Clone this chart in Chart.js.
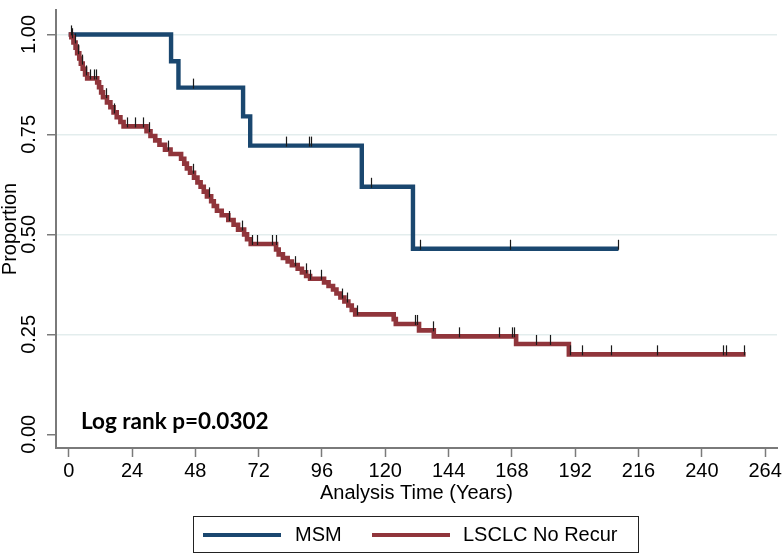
<!DOCTYPE html>
<html>
<head>
<meta charset="utf-8">
<script src="https://cdn.jsdelivr.net/npm/chart.js@4"></script>
<style>
  html, body { margin: 0; padding: 0; background: #fff; }
  #wrap { position: relative; width: 784px; height: 558px; }
  #logrank {
    position: absolute; left: 81px; top: 407px;
    font: bold 22.5px "Lato", "Open Sans", sans-serif; color: #000;
  }
  #legend {
    position: absolute; left: 193px; top: 516px; width: 444px; height: 35px;
    border: 1.5px solid #222; box-sizing: content-box;
    font: 20px "Liberation Sans", Arial, sans-serif; color: #000;
  }
  .sw { position: absolute; top: 16px; height: 4px; width: 78px; }
  .lb { position: absolute; top: 6px; line-height: 22px; }
</style>
</head>
<body>
<div id="wrap">
  <canvas id="kmChart"></canvas>
  <div id="logrank">Log rank p=0.0302</div>
  <div id="legend">
    <div class="sw" style="left:9px;background:#1a476f"></div>
    <div class="lb" style="left:101px">MSM</div>
    <div class="sw" style="left:178px;background:#90353b"></div>
    <div class="lb" style="left:269px">LSCLC No Recur</div>
  </div>
</div>
<script>
// Kaplan-Meier curves, values

const xTicks = [0, 24, 48, 72, 96, 120, 144, 168, 192, 216, 240, 264];
const yTicks = [0, 0.25, 0.5, 0.75, 1];

// MSM group
const msmTimes  = [0, 38.8, 41.6, 66.1, 68.8, 111.1, 130.5, 208.4];
const msmSurv   = [1, 0.933, 0.867, 0.795, 0.722, 0.619, 0.464, 0.464];
const msmCensor = [47.3, 82.4, 90.9, 91.8, 114.6, 133.3, 167.4, 208.4];

// LSCLC No Recur group
const lsclcTimes = [0, 1.0, 1.8, 2.6, 3.2, 4.0, 4.6, 5.3, 6.2, 7.0, 10.8, 11.5, 12.3, 13.0,
  14.5, 15.8, 17.0, 18.2, 19.6, 20.8, 29.5, 31.0, 32.8, 34.4, 36.5, 38.6, 42.6, 43.8,
  44.8, 46.0, 47.5, 48.8, 50.0, 51.2, 52.4, 54.0, 55.0, 56.2, 58.0, 60.5, 62.5, 64.2,
  66.5, 67.6, 69.0, 78.6, 79.6, 81.2, 83.0, 84.6, 86.8, 88.4, 90.0, 91.5, 96.8, 98.5,
  100.2, 101.5, 103.0, 104.5, 106.0, 107.3, 108.6, 123.2, 124.0, 132.8, 138.4, 169.6,
  189.6, 256.6];
const lsclcSurv = [1, 0.993, 0.980, 0.967, 0.953, 0.940, 0.927, 0.914, 0.900, 0.890, 0.880,
  0.868, 0.855, 0.843, 0.830, 0.818, 0.805, 0.793, 0.781, 0.770, 0.758, 0.746, 0.735,
  0.724, 0.712, 0.701, 0.689, 0.677, 0.665, 0.654, 0.642, 0.630, 0.619, 0.607, 0.595,
  0.583, 0.571, 0.559, 0.548, 0.536, 0.524, 0.512, 0.500, 0.488, 0.476, 0.462, 0.450,
  0.441, 0.432, 0.423, 0.414, 0.405, 0.396, 0.389, 0.380, 0.371, 0.362, 0.352, 0.342,
  0.332, 0.322, 0.311, 0.300, 0.288, 0.276, 0.260, 0.245, 0.226, 0.200, 0.200];
const lsclcCensor = [0.7, 1.4, 2.4, 3.6, 5.0, 6.6, 8.2, 9.6, 10.4, 14.0, 17.2, 22.0, 25.2,
  28.0, 30.5, 37.6, 47.0, 53.0, 60.9, 65.8, 69.6, 71.3, 77.2, 78.4, 85.8, 89.8, 91.5,
  95.6, 103.6, 105.5, 109.3, 131.4, 132.0, 138.1, 147.8, 163.2, 168.2, 168.8, 177.3,
  182.6, 189.9, 194.6, 205.6, 223.1, 248.1, 249.0, 255.9];

const AXIS_GRAY = "#7a7a7a";
const FONT = "'Liberation Sans', Arial, sans-serif";

function toPoints(times, surv) {
  return times.map((t, i) => ({ x: t, y: surv[i] }));
}

function survAt(times, surv, t) {
  let v = surv[0];
  for (let i = 0; i < times.length; i++) {
    if (times[i] <= t) v = surv[i];
  }
  return v;
}

// small vertical marks for censored cases
const censorMarks = {
  id: "censorMarks",
  afterDatasetsDraw(chart) {
    const { ctx, scales: { x, y } } = chart;
    ctx.save();
    ctx.strokeStyle = "#1a1a1a";
    ctx.lineWidth = 1.2;
    [[msmTimes, msmSurv, msmCensor], [lsclcTimes, lsclcSurv, lsclcCensor]].forEach(([t, s, c]) => {
      c.forEach(ct => {
        const px = Math.round(x.getPixelForValue(ct)) + 0.5;
        const py = y.getPixelForValue(survAt(t, s, ct));
        ctx.beginPath();
        ctx.moveTo(px, py - 9);
        ctx.lineTo(px, py + 1);
        ctx.stroke();
      });
    });
    ctx.restore();
  }
};

window.addEventListener("load", () => {
  const ctx = document.getElementById("kmChart").getContext("2d");
  new Chart(ctx, {
    type: "line",
    data: {
      datasets: [
        {
          label: "LSCLC No Recur",
          data: toPoints(lsclcTimes, lsclcSurv),
          borderColor: "#90353b",
          borderWidth: 4.6,
          stepped: "before",
          pointRadius: 0,
          order: 0
        },
        {
          label: "MSM",
          data: toPoints(msmTimes, msmSurv),
          borderColor: "#1a476f",
          borderWidth: 4.4,
          stepped: "before",
          pointRadius: 0,
          order: 1
        }
      ]
    },
    options: {
      responsive: true,
      maintainAspectRatio: false,
      animation: false,
      layout: { padding: { left: 0, right: 7, top: 0, bottom: 54 } },
      plugins: { legend: { display: false }, tooltip: { enabled: false } },
      scales: {
        x: {
          type: "linear",
          min: -4.82,
          max: 268.5,
          afterBuildTicks: s => { s.ticks = xTicks.map(v => ({ value: v })); },
          afterFit: s => { s.height = 56; },
          grid: { drawOnChartArea: false, tickLength: 9, tickColor: AXIS_GRAY, tickWidth: 1.5 },
          border: { color: AXIS_GRAY, width: 2 },
          ticks: { color: "#000", font: { family: FONT, size: 20 }, padding: 2, maxRotation: 0 },
          title: {
            display: true,
            text: "Analysis Time (Years)",
            color: "#000",
            font: { family: FONT, size: 20, lineHeight: 1 },
            padding: { top: 0, bottom: 1 }
          }
        },
        y: {
          type: "linear",
          min: -0.0342,
          max: 1.0611,
          afterBuildTicks: s => { s.ticks = yTicks.map(v => ({ value: v })); },
          afterFit: s => { s.width = 56; },
          grid: {
            color: c => (c.tick && c.tick.value > 0 ? "#e3eded" : "rgba(0,0,0,0)"),
            lineWidth: 1.5,
            tickLength: 9,
            tickColor: AXIS_GRAY,
            tickWidth: 1.5
          },
          border: { color: AXIS_GRAY, width: 2 },
          ticks: {
            color: "#000",
            font: { family: FONT, size: 20 },
            minRotation: 90,
            maxRotation: 90,
            crossAlign: "center",
            padding: -2,
            callback: v => Number(v).toFixed(2)
          },
          title: {
            display: true,
            text: "Proportion",
            color: "#000",
            font: { family: FONT, size: 20, lineHeight: 1 },
            padding: { top: 0, bottom: 0 }
          }
        }
      }
    },
    plugins: [censorMarks]
  });
});
</script>
</body>
</html>
